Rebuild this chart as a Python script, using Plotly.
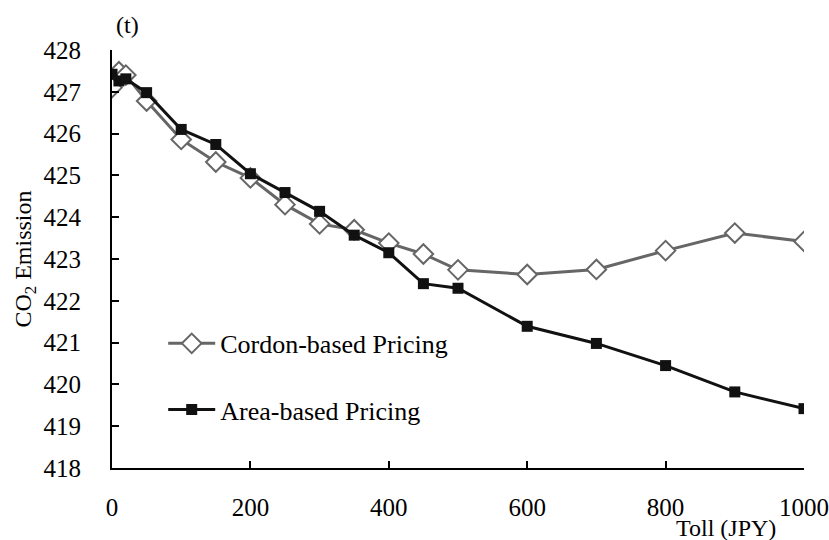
import plotly.graph_objects as go

# Toll levels (JPY)
toll = [0, 10, 20, 50, 100, 150, 200, 250, 300, 350, 400, 450, 500, 600, 700, 800, 900, 1000]

# CO2 emission (t) under each pricing scheme
cordon_co2 = [427.10, 427.48, 427.40, 426.78, 425.86, 425.32, 424.94, 424.30, 423.84,
              423.70, 423.38, 423.12, 422.74, 422.63, 422.75, 423.20, 423.62, 423.42]
area_co2 = [427.42, 427.26, 427.31, 426.98, 426.10, 425.74, 425.04, 424.59, 424.14,
            423.57, 423.15, 422.41, 422.30, 421.39, 420.98, 420.45, 419.82, 419.42]

x_ticks = [0, 200, 400, 600, 800, 1000]
y_ticks = [418, 419, 420, 421, 422, 423, 424, 425, 426, 427, 428]

FONT = "'Liberation Serif', 'Times New Roman', 'DejaVu Serif', serif"

fig = go.Figure()

fig.add_trace(go.Scatter(
    x=toll, y=cordon_co2, mode="lines+markers", name="Cordon-based Pricing",
    line=dict(color="#666666", width=3),
    marker=dict(symbol="diamond", size=15, color="white",
                line=dict(color="#666666", width=2)),
    legend="legend",
))

fig.add_trace(go.Scatter(
    x=toll, y=area_co2, mode="lines+markers", name="Area-based Pricing",
    line=dict(color="#111111", width=3),
    marker=dict(symbol="square", size=11, color="#111111"),
    legend="legend2",
))

axis_common = dict(
    showline=True, linecolor="black", linewidth=2,
    ticks="inside", ticklen=7, tickwidth=2, tickcolor="black",
    showgrid=False, zeroline=False, automargin=False,
    tickfont=dict(family=FONT, size=25, color="black"),
)

fig.update_xaxes(range=[0, 1000], tickvals=x_ticks, ticklabelstandoff=16, **axis_common)
fig.update_yaxes(range=[418, 428], tickvals=y_ticks, ticklabelstandoff=24,
                 title=dict(text="CO<sub>2</sub> Emission",
                            font=dict(family=FONT, size=24, color="black"),
                            standoff=5),
                 **axis_common)

legend_common = dict(
    font=dict(family=FONT, size=26, color="black"),
    bgcolor="rgba(0,0,0,0)", borderwidth=0,
    xanchor="left", yanchor="middle", itemwidth=47,
)

fig.update_layout(
    width=829, height=540,
    margin=dict(l=112, r=25, t=50, b=72),
    paper_bgcolor="white", plot_bgcolor="white",
    showlegend=True,
    legend=dict(x=0.074, y=0.298, **legend_common),
    legend2=dict(x=0.074, y=0.140, **legend_common),
    annotations=[
        dict(text="(t)", xref="paper", yref="paper", x=0.022, y=1.0, yshift=25,
             xanchor="center", yanchor="middle", showarrow=False,
             font=dict(family=FONT, size=24, color="black")),
        dict(text="Toll (JPY)", xref="paper", yref="paper", x=0.887, y=0, yshift=-60,
             xanchor="center", yanchor="middle", showarrow=False,
             font=dict(family=FONT, size=24, color="black")),
    ],
)

fig.write_html("out.html")
